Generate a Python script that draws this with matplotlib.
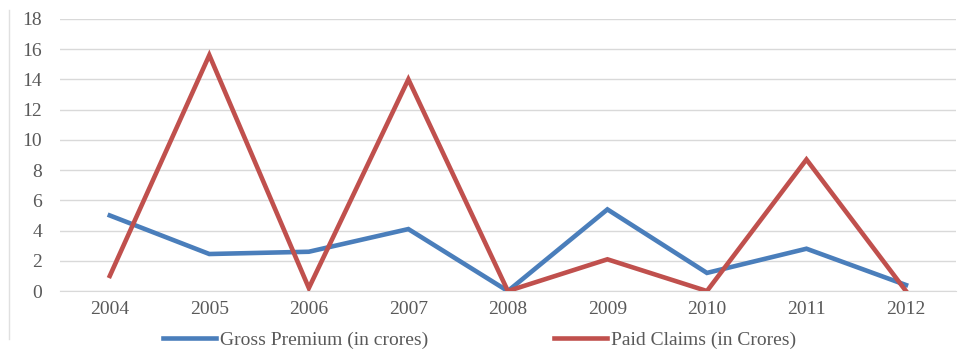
import numpy as np
import matplotlib.pyplot as plt
from matplotlib.lines import Line2D

# anni e valori (in crore)
years = ['2004', '2005', '2006', '2007', '2008', '2009', '2010', '2011', '2012']
gross_premium = [5.0, 2.45, 2.6, 4.1, 0.0, 5.4, 1.2, 2.8, 0.4]
paid_claims = [1.0, 15.6, 0.2, 14.0, 0.0, 2.1, 0.0, 8.7, 0.0]
y_ticks = [0, 2, 4, 6, 8, 10, 12, 14, 16, 18]

plt.rcParams['font.family'] = ['Liberation Serif', 'DejaVu Serif']
text_col = '#595959'

fig = plt.figure(figsize=(9.59, 3.49), dpi=100)
ax = fig.add_axes([0.0626, 0.166, 0.934, 0.78])

x = np.arange(len(years))
ax.plot(x, gross_premium, color='#4a7ebb', lw=3.3, label='Gross Premium (in crores)',
        solid_joinstyle='miter', zorder=3)
ax.plot(x, paid_claims, color='#c0504d', lw=3.3, label='Paid Claims (in Crores)',
        solid_joinstyle='miter', zorder=3)

ax.set_xlim(-0.5, len(years) - 0.5)
ax.set_ylim(0, 18)
ax.set_yticks(y_ticks)
ax.set_xticks(x)
ax.set_xticklabels(years)
ax.tick_params(length=0, labelsize=14, colors=text_col)
ax.tick_params(axis='y', pad=13)
ax.tick_params(axis='x', pad=7)
ax.grid(axis='y', color='#d9d9d9', lw=1)
ax.set_axisbelow(True)
for s in ['top', 'right', 'left']:
    ax.spines[s].set_visible(False)
ax.spines['bottom'].set_color('#d9d9d9')

leg = fig.legend(loc='center', bbox_to_anchor=(0.5, 0.025), ncol=2, frameon=False,
                 fontsize=14, handlelength=2.7, handletextpad=0.2, columnspacing=6.5)
for t in leg.get_texts():
    t.set_color(text_col)

# bordo sottile a sinistra
fig.add_artist(Line2D([0.009, 0.009], [0.03, 0.97], color='#e0e0e0', lw=1))

fig.savefig('out.png', dpi=100)
